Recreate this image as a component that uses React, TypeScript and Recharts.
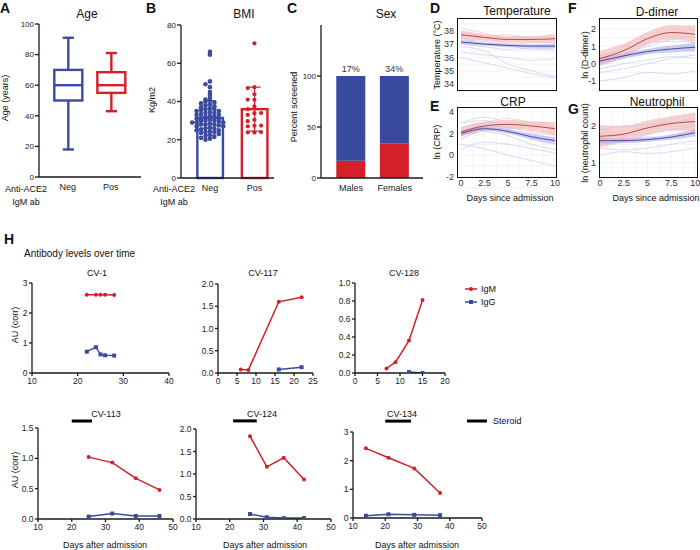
import React from "react";
import {
  Area,
  Bar,
  CartesianGrid,
  Cell,
  ComposedChart,
  LabelList,
  Line,
  LineChart,
  ReferenceLine,
  Scatter,
  XAxis,
  YAxis,
} from "recharts";

const FONT = '"Liberation Sans", Arial, Helvetica, sans-serif';
const RED = "#D3202A";
const BLUE = "#3A4B9F";
const INK = "#1a1a1a";

// ---- A: age by anti-ACE2 IgM status (whiskers = min/max)
const groups = ["Neg", "Pos"];
const ageMin = [18, 43];
const ageQ1 = [50, 55];
const ageMedian = [60, 60];
const ageQ3 = [70, 68.5];
const ageMax = [91, 81];

// ---- B: BMI, mean ± SD with individual patients
const bmiMean = [31.4, 36];
const bmiSd = [9, 11.5];
const bmiNeg = [
  66, 64.5, 50.5, 49, 47.5, 45, 43.5, 42, 41, 40.5, 40, 39.5, 39, 38.5, 38,
  37.5, 37, 36.5, 36, 36, 35.5, 35, 35, 34.5, 34, 34, 33.5, 33, 33, 32.5, 32,
  32, 31.5, 31, 31, 30.5, 30, 30, 30, 29.5, 29, 29, 29, 28.5, 28, 28, 28, 27.5,
  27, 27, 26.5, 26, 26, 25.5, 25, 25, 24.5, 24, 24, 23.5, 23, 22.5, 22, 21.5,
  21, 20.5, 20,
];
const bmiPos = [
  70.4, 47.5, 47, 43.8, 40.9, 41, 37.4, 36, 33.9, 33, 34, 30.4, 29.7, 27.3, 27,
  27.4, 23.8, 23.9, 24,
];

// ---- C: percent of screened patients that were positive
const sexes = ["Males", "Females"];
const pctPositive = [17, 34];

// ---- D–G: smoothed trajectories (pos = IgM+, neg = IgM−)
const days = [0, 2.5, 5, 7.5, 10];

const tempPosMean = [37.7, 37.5, 37.35, 37.35, 37.4];
const tempPosHalf = [0.3, 0.25, 0.25, 0.25, 0.3];
const tempNegMean = [37.15, 37.0, 36.9, 36.85, 36.85];
const tempNegHalf = [0.15, 0.12, 0.12, 0.12, 0.15];
const tempPosTraces = [
  [38.2, 37.8, 37.4, 37.2, 37.1],
  [37.9, 37.6, 37.7, 37.5, 37.8],
  [37.3, 37.4, 37.0, 37.1, 37.3],
];
const tempNegTraces = [
  [37.0, 36.8, 36.6, 36.7, 36.5],
  [36.4, 36.2, 36.0, 35.8, 35.9],
  [37.5, 37.0, 36.8, 36.9, 37.0],
  [36.8, 36.5, 35.5, 35.0, 34.6],
  [36.0, 35.6, 35.2, 34.8, 34.5],
  [37.3, 37.2, 36.9, 36.6, 36.7],
];

const crpPosMean = [2.15, 2.7, 2.85, 2.7, 2.45];
const crpPosHalf = [0.45, 0.4, 0.4, 0.45, 0.6];
const crpNegMean = [2.0, 2.45, 2.2, 1.7, 1.35];
const crpNegHalf = [0.25, 0.2, 0.2, 0.25, 0.3];
const crpPosTraces = [
  [2.2, 3.0, 3.4, 3.0, 2.6],
  [1.5, 2.4, 2.8, 2.9, 2.5],
  [3.0, 3.5, 3.0, 2.2, 1.8],
];
const crpNegTraces = [
  [1.5, 2.2, 1.8, 1.0, 0.5],
  [2.5, 3.0, 2.4, 1.8, 1.2],
  [0.5, 1.2, 1.0, 0.6, 0.2],
  [2.0, 2.8, 2.6, 2.0, 1.5],
  [1.0, 0.6, 0.0, -0.5, -1.0],
  [3.0, 3.2, 2.5, 1.5, 1.0],
];

const ddPosMean = [0.3, 0.75, 1.45, 1.8, 1.7];
const ddPosHalf = [0.45, 0.4, 0.35, 0.4, 0.5];
const ddNegMean = [0.15, 0.45, 0.7, 0.85, 0.95];
const ddNegHalf = [0.2, 0.15, 0.15, 0.2, 0.25];
const ddPosTraces = [
  [0.3, 1.0, 1.8, 2.2, 2.0],
  [0.5, 0.8, 1.3, 1.6, 1.5],
  [0.0, 0.6, 1.4, 1.8, 1.9],
];
const ddNegTraces = [
  [0.0, 0.3, 0.6, 0.8, 0.9],
  [-0.5, -0.3, 0.0, 0.3, 0.5],
  [0.5, 0.8, 1.2, 1.3, 1.2],
  [-1.0, -0.8, -0.5, -0.6, -0.4],
  [0.2, 0.6, 1.0, 1.4, 1.6],
  [-0.3, 0.0, 0.2, 0.4, 0.3],
];

const neuPosMean = [1.72, 1.78, 1.95, 2.07, 2.12];
const neuPosHalf = [0.3, 0.22, 0.2, 0.2, 0.25];
const neuNegMean = [1.6, 1.6, 1.63, 1.7, 1.82];
const neuNegHalf = [0.08, 0.06, 0.06, 0.07, 0.1];
const neuPosTraces = [
  [1.8, 1.85, 2.0, 2.2, 2.3],
  [1.6, 1.7, 1.9, 2.0, 2.0],
  [1.9, 1.8, 1.95, 2.1, 2.2],
];
const neuNegTraces = [
  [1.6, 1.55, 1.6, 1.7, 1.8],
  [1.4, 1.35, 1.4, 1.5, 1.6],
  [1.8, 1.75, 1.8, 1.9, 2.0],
  [1.2, 1.3, 1.25, 1.3, 1.4],
  [1.9, 2.0, 2.05, 2.1, 2.2],
  [1.5, 1.6, 1.7, 1.65, 1.75],
];

// ---- H: antibody levels per patient (AU, corrected)
const cv1IgmDays = [22, 24, 25, 26, 28];
const cv1Igm = [2.61, 2.61, 2.61, 2.61, 2.6];
const cv1IggDays = [22, 24, 25, 26, 28];
const cv1Igg = [0.71, 0.86, 0.62, 0.59, 0.58];

const cv117IgmDays = [6, 8, 16, 22];
const cv117Igm = [0.08, 0.07, 1.6, 1.7];
const cv117IggDays = [16, 22];
const cv117Igg = [0.08, 0.13];

const cv128IgmDays = [7, 9, 12, 15];
const cv128Igm = [0.05, 0.12, 0.36, 0.81];
const cv128IggDays = [12, 15];
const cv128Igg = [0.01, 0.0];

const cv113Days = [25, 32, 39, 46];
const cv113Igm = [1.02, 0.93, 0.67, 0.48];
const cv113Igg = [0.04, 0.09, 0.05, 0.05];
const cv113Steroid = [20, 26];

const cv124Days = [26, 31, 36, 42];
const cv124Igm = [1.84, 1.16, 1.36, 0.88];
const cv124Igg = [0.11, 0.04, 0.02, 0.02];
const cv124Steroid = [21, 28];

const cv134Days = [14, 21, 29, 37];
const cv134Igm = [2.43, 2.1, 1.73, 0.87];
const cv134Igg = [0.08, 0.13, 0.11, 0.1];
const cv134Steroid = [20, 28];

// ---------------------------------------------------------------------------

type Rect = { x0: number; y0: number; x1: number; y1: number };
const PAD = { l: 34, t: 14, r: 8, b: 24 };

// Places a chart so that its plot area lands exactly on rect.
function frame(r: Rect) {
  return {
    style: { position: "absolute" as const, left: r.x0 - PAD.l, top: r.y0 - PAD.t },
    width: r.x1 - r.x0 + PAD.l + PAD.r,
    height: r.y1 - r.y0 + PAD.t + PAD.b,
    margin: { top: PAD.t, right: PAD.r, left: 0, bottom: 0 },
  };
}

const GROUP_COLORS = [BLUE, RED];
const BAR_W = 28;
const axisLine = { stroke: INK, strokeWidth: 1.3 };
const tickSmall = { fontSize: 8, fill: "#222" };
const tickCat = { fontSize: 9, fill: "#222" };

const ageRows = groups.map((g, i) => ({
  pos: i + 1,
  range: [ageMin[i], ageMax[i]],
  lo: ageMin[i],
  q1: ageQ1[i],
  med: ageMedian[i],
  q3: ageQ3[i],
  hi: ageMax[i],
}));

function BoxShape(props: any) {
  const { x, y, width, height, fill, payload } = props;
  const { lo, q1, med, q3, hi } = payload;
  const py = (v: number) => y + ((hi - v) / (hi - lo)) * height;
  const cx = x + width / 2;
  const cap = width * 0.2;
  return (
    <g stroke={fill} strokeWidth={2.4} fill="none">
      <line x1={cx} x2={cx} y1={py(hi)} y2={py(q3)} />
      <line x1={cx} x2={cx} y1={py(q1)} y2={py(lo)} />
      <line x1={cx - cap} x2={cx + cap} y1={py(hi)} y2={py(hi)} />
      <line x1={cx - cap} x2={cx + cap} y1={py(lo)} y2={py(lo)} />
      <rect x={x} y={py(q3)} width={width} height={py(q1) - py(q3)} fill="#fff" />
      <line x1={x} x2={x + width} y1={py(med)} y2={py(med)} />
    </g>
  );
}

function AgePanel() {
  const f = frame({ x0: 39, y0: 24, x1: 141, y1: 177 });
  return (
    <div style={f.style}>
      <ComposedChart width={f.width} height={f.height} margin={f.margin} data={ageRows}>
        <XAxis
          type="number"
          dataKey="pos"
          domain={[0.33, 2.7]}
          ticks={[1, 2]}
          tickFormatter={(v: number) => groups[v - 1]}
          allowDataOverflow
          height={PAD.b}
          axisLine={axisLine}
          tickLine={false}
          tickSize={0}
          tickMargin={7}
          tick={tickCat}
        />
        <YAxis
          type="number"
          domain={[0, 100]}
          ticks={[0, 20, 40, 60, 80, 100]}
          interval={0}
          width={PAD.l}
          axisLine={axisLine}
          tickLine={axisLine}
          tickSize={4}
          tickMargin={1}
          tick={tickSmall}
        />
        <Bar dataKey="range" barSize={BAR_W} shape={(p: any) => <BoxShape {...p} />} isAnimationActive={false}>
          {ageRows.map((r, i) => (
            <Cell key={r.pos} fill={GROUP_COLORS[i]} />
          ))}
        </Bar>
      </ComposedChart>
    </div>
  );
}

// simple beeswarm: points sharing a value bin fan out sideways
function swarm(values: number[], center: number, bin: number, step: number) {
  const counts = new Map<number, number>();
  return values.map((v) => {
    const b = Math.round(v / bin);
    const n = counts.get(b) ?? 0;
    counts.set(b, n + 1);
    const off = Math.ceil(n / 2) * (n % 2 === 0 ? 1 : -1);
    return { pos: center + off * step, bmi: v };
  });
}

const bmiRows = groups.map((g, i) => ({ pos: i + 1, mean: bmiMean[i], sd: bmiSd[i] }));
const negPoints = swarm(bmiNeg, 1, 2, 0.1);
const posPoints = swarm(bmiPos, 2, 3, 0.15);

// hollow mean bar with SD whiskers; the scatter points narrow the band, so the
// outline keeps a fixed width around the bar's centre
function MeanBar(props: any) {
  const { x, y, width, height, fill, payload } = props;
  const perUnit = height / payload.mean;
  const top = y - payload.sd * perUnit;
  const bottom = y + payload.sd * perUnit;
  const cx = x + width / 2;
  return (
    <g stroke={fill} fill="none">
      <rect x={cx - BAR_W / 2 + 1.2} y={y} width={BAR_W - 2.4} height={height} strokeWidth={2.4} />
      <line x1={cx} x2={cx} y1={top} y2={bottom} strokeWidth={1.2} />
      <line x1={cx - 6} x2={cx + 6} y1={top} y2={top} strokeWidth={1.2} />
      <line x1={cx - 6} x2={cx + 6} y1={bottom} y2={bottom} strokeWidth={1.2} />
    </g>
  );
}

const dotShape = (color: string, r: number) => (p: any) =>
  <circle cx={p.cx} cy={p.cy} r={r} fill={color} stroke="none" />;

function BmiPanel() {
  const f = frame({ x0: 181, y0: 25, x1: 274, y1: 178 });
  return (
    <div style={f.style}>
      <ComposedChart width={f.width} height={f.height} margin={f.margin} data={bmiRows}>
        <XAxis
          type="number"
          dataKey="pos"
          domain={[0.35, 2.44]}
          ticks={[1, 2]}
          tickFormatter={(v: number) => groups[v - 1]}
          allowDataOverflow
          height={PAD.b}
          axisLine={axisLine}
          tickLine={false}
          tickSize={0}
          tickMargin={7}
          tick={tickCat}
        />
        <YAxis
          type="number"
          domain={[0, 80]}
          ticks={[0, 20, 40, 60, 80]}
          interval={0}
          width={PAD.l}
          axisLine={axisLine}
          tickLine={axisLine}
          tickSize={4}
          tickMargin={1}
          tick={tickSmall}
        />
        <Bar dataKey="mean" shape={(p: any) => <MeanBar {...p} />} isAnimationActive={false}>
          {bmiRows.map((r, i) => (
            <Cell key={r.pos} fill={GROUP_COLORS[i]} />
          ))}
        </Bar>
        <Scatter data={negPoints} dataKey="bmi" shape={dotShape(BLUE, 2.3)} isAnimationActive={false} />
        <Scatter data={posPoints} dataKey="bmi" shape={dotShape(RED, 2.1)} isAnimationActive={false} />
      </ComposedChart>
    </div>
  );
}

const sexRows = sexes.map((s, i) => ({
  pos: i + 1,
  positive: pctPositive[i],
  negative: 100 - pctPositive[i],
}));

function SexPanel() {
  const f = frame({ x0: 321, y0: 25, x1: 423, y1: 178 });
  return (
    <div style={f.style}>
      <ComposedChart width={f.width} height={f.height} margin={f.margin} data={sexRows}>
        <XAxis
          type="number"
          dataKey="pos"
          domain={[0.31, 2.65]}
          ticks={[1, 2]}
          tickFormatter={(v: number) => sexes[v - 1]}
          allowDataOverflow
          height={PAD.b}
          axisLine={axisLine}
          tickLine={false}
          tickSize={0}
          tickMargin={7}
          tick={tickCat}
        />
        <YAxis
          type="number"
          domain={[0, 150]}
          ticks={[0, 50, 100]}
          interval={0}
          width={PAD.l}
          axisLine={axisLine}
          tickLine={axisLine}
          tickSize={4}
          tickMargin={1}
          tick={tickSmall}
        />
        <Bar dataKey="positive" stackId="s" barSize={29} fill={RED} isAnimationActive={false} />
        <Bar dataKey="negative" stackId="s" barSize={29} fill={BLUE} isAnimationActive={false}>
          <LabelList
            dataKey="positive"
            position="top"
            offset={4}
            formatter={(v: any) => `${v}%`}
            style={{ fontSize: 9, fill: "#333" }}
          />
        </Bar>
      </ComposedChart>
    </div>
  );
}

function trendRows(
  posMean: number[],
  posHalf: number[],
  negMean: number[],
  negHalf: number[],
  posTraces: number[][],
  negTraces: number[][]
) {
  return days.map((day, i) => {
    const row: Record<string, any> = {
      day,
      posMean: posMean[i],
      posBand: [posMean[i] - posHalf[i], posMean[i] + posHalf[i]],
      negMean: negMean[i],
      negBand: [negMean[i] - negHalf[i], negMean[i] + negHalf[i]],
    };
    posTraces.forEach((t, k) => (row[`p${k}`] = t[i]));
    negTraces.forEach((t, k) => (row[`n${k}`] = t[i]));
    return row;
  });
}

const tempRows = trendRows(tempPosMean, tempPosHalf, tempNegMean, tempNegHalf, tempPosTraces, tempNegTraces);
const crpRows = trendRows(crpPosMean, crpPosHalf, crpNegMean, crpNegHalf, crpPosTraces, crpNegTraces);
const ddRows = trendRows(ddPosMean, ddPosHalf, ddNegMean, ddNegHalf, ddPosTraces, ddNegTraces);
const neuRows = trendRows(neuPosMean, neuPosHalf, neuNegMean, neuNegHalf, neuPosTraces, neuNegTraces);

const dayGrid = [0, 1.25, 2.5, 3.75, 5, 6.25, 7.5, 8.75, 10];

interface TrendProps {
  rect: Rect;
  rows: Record<string, any>[];
  xDomain: [number, number];
  yDomain: [number, number];
  yTicks: number[];
  showX: boolean;
  nPos: number;
  nNeg: number;
}

function TrendPanel({ rect, rows, xDomain, yDomain, yTicks, showX, nPos, nNeg }: TrendProps) {
  const f = frame(rect);
  const step = yTicks.length > 1 ? yTicks[1] - yTicks[0] : 1;
  const yGrid = yTicks.flatMap((t) => [t - step / 2, t]).concat(yTicks[yTicks.length - 1] + step / 2);
  const tick = { fontSize: 9, fill: "#333" };
  return (
    <>
      <div style={f.style}>
        <ComposedChart width={f.width} height={f.height} margin={f.margin} data={rows}>
          <CartesianGrid stroke="#ECECEC" strokeWidth={0.6} verticalValues={dayGrid} horizontalValues={yGrid} />
          <XAxis
            type="number"
            dataKey="day"
            domain={xDomain}
            ticks={days}
            interval={0}
            allowDataOverflow
            height={PAD.b}
            axisLine={false}
            tickLine={false}
            tickSize={0}
            tickMargin={2}
            tick={showX ? tick : false}
          />
          <YAxis
            type="number"
            domain={yDomain}
            ticks={yTicks}
            interval={0}
            allowDataOverflow
            width={PAD.l}
            axisLine={false}
            tickLine={false}
            tickSize={0}
            tickMargin={3}
            tick={tick}
          />
          {Array.from({ length: nNeg }, (_, k) => (
            <Line key={`n${k}`} dataKey={`n${k}`} type="monotone" stroke="#C9C9F0" strokeWidth={0.7} dot={false} isAnimationActive={false} />
          ))}
          {Array.from({ length: nPos }, (_, k) => (
            <Line key={`p${k}`} dataKey={`p${k}`} type="monotone" stroke="#F3C4C4" strokeWidth={0.7} dot={false} isAnimationActive={false} />
          ))}
          <Area dataKey="negBand" type="monotone" stroke="none" fill="#6F6FD2" fillOpacity={0.35} isAnimationActive={false} />
          <Area dataKey="posBand" type="monotone" stroke="none" fill="#EE8A8A" fillOpacity={0.4} isAnimationActive={false} />
          <Line dataKey="negMean" type="monotone" stroke="#4A4AB2" strokeWidth={1} dot={false} isAnimationActive={false} />
          <Line dataKey="posMean" type="monotone" stroke="#B03A3A" strokeWidth={0.9} dot={false} isAnimationActive={false} />
        </ComposedChart>
      </div>
      <div
        style={{
          position: "absolute",
          left: rect.x0,
          top: rect.y0,
          width: rect.x1 - rect.x0,
          height: rect.y1 - rect.y0,
          border: "1.5px solid #111",
          boxSizing: "border-box",
        }}
      />
    </>
  );
}

const series = (xs: number[], ys: number[]) => xs.map((day, i) => ({ day, au: ys[i] }));

const roundDot = (p: any) => <circle key={`c${p.index}`} cx={p.cx} cy={p.cy} r={2} fill={RED} stroke="none" />;
const squareDot = (p: any) => (
  <rect key={`s${p.index}`} x={p.cx - 2} y={p.cy - 2} width={4} height={4} fill={BLUE} stroke="none" />
);

interface CurveProps {
  rect: Rect;
  xDomain: [number, number];
  xTicks: number[];
  yDomain: [number, number];
  yTicks: number[];
  digits: number;
  igm: { day: number; au: number }[];
  igg: { day: number; au: number }[];
  steroid?: number[];
  barLevel?: number;
}

function CurvePanel({ rect, xDomain, xTicks, yDomain, yTicks, digits, igm, igg, steroid, barLevel }: CurveProps) {
  const f = frame(rect);
  return (
    <div style={f.style}>
      <LineChart width={f.width} height={f.height} margin={f.margin}>
        <XAxis
          type="number"
          dataKey="day"
          domain={xDomain}
          ticks={xTicks}
          interval={0}
          allowDataOverflow
          height={PAD.b}
          axisLine={axisLine}
          tickLine={axisLine}
          tickSize={3}
          tickMargin={2}
          tick={{ fontSize: 8.5, fill: "#222" }}
        />
        <YAxis
          type="number"
          domain={yDomain}
          ticks={yTicks}
          interval={0}
          allowDataOverflow
          width={PAD.l}
          axisLine={axisLine}
          tickLine={axisLine}
          tickSize={3}
          tickMargin={1.5}
          tickFormatter={(v: number) => v.toFixed(digits)}
          tick={{ fontSize: 8.5, fill: "#222" }}
        />
        {steroid && barLevel !== undefined && (
          <ReferenceLine
            segment={[
              { x: steroid[0], y: barLevel },
              { x: steroid[1], y: barLevel },
            ]}
            stroke="#000"
            strokeWidth={3}
            ifOverflow="visible"
          />
        )}
        <Line data={igg} dataKey="au" stroke={BLUE} strokeWidth={1.5} dot={squareDot} isAnimationActive={false} />
        <Line data={igm} dataKey="au" stroke={RED} strokeWidth={1.5} dot={roundDot} isAnimationActive={false} />
      </LineChart>
    </div>
  );
}

type Txt = { x: number; y: number; t: string; s: number; a?: "start" | "middle" | "end"; b?: boolean; r?: boolean };

const TEXTS: Txt[] = [
  { x: 0, y: 13, t: "A", s: 14, a: "start", b: true },
  { x: 87, y: 18, t: "Age", s: 12 },
  { x: 8, y: 98, t: "Age (years)", s: 9, r: true },
  { x: 26, y: 192, t: "Anti-ACE2", s: 9 },
  { x: 26, y: 205, t: "IgM ab", s: 9 },
  { x: 146, y: 13, t: "B", s: 14, a: "start", b: true },
  { x: 244, y: 18, t: "BMI", s: 12 },
  { x: 155, y: 100, t: "Kg/m2", s: 9, r: true },
  { x: 174, y: 192, t: "Anti-ACE2", s: 9 },
  { x: 174, y: 205, t: "IgM ab", s: 9 },
  { x: 287, y: 13, t: "C", s: 14, a: "start", b: true },
  { x: 386, y: 18, t: "Sex", s: 12 },
  { x: 297, y: 107, t: "Percent screened", s: 9, r: true },
  { x: 430, y: 13, t: "D", s: 14, a: "start", b: true },
  { x: 517, y: 15, t: "Temperature", s: 12 },
  { x: 440, y: 55, t: "Temperature (°C)", s: 9, r: true },
  { x: 430, y: 111, t: "E", s: 14, a: "start", b: true },
  { x: 513, y: 106, t: "CRP", s: 12 },
  { x: 440, y: 142, t: "ln (CRP)", s: 9, r: true },
  { x: 510, y: 201, t: "Days since admission", s: 9 },
  { x: 568, y: 13, t: "F", s: 14, a: "start", b: true },
  { x: 657, y: 16, t: "D-dimer", s: 12 },
  { x: 588, y: 55, t: "ln (D-dimer)", s: 9, r: true },
  { x: 568, y: 114, t: "G", s: 14, a: "start", b: true },
  { x: 657, y: 106, t: "Neutrophil", s: 12 },
  { x: 588, y: 143, t: "ln (neutrophil count)", s: 9, r: true },
  { x: 656, y: 201, t: "Days since admission", s: 9 },
  { x: 4, y: 244, t: "H", s: 14, a: "start", b: true },
  { x: 24, y: 257, t: "Antibody levels over time", s: 10, a: "start" },
  { x: 97, y: 276, t: "CV-1", s: 9 },
  { x: 263, y: 276, t: "CV-117", s: 9 },
  { x: 404, y: 276, t: "CV-128", s: 9 },
  { x: 18, y: 325, t: "AU (corr)", s: 9, r: true },
  { x: 481, y: 292, t: "IgM", s: 9, a: "start" },
  { x: 481, y: 305, t: "IgG", s: 9, a: "start" },
  { x: 106, y: 417, t: "CV-113", s: 9 },
  { x: 262, y: 417, t: "CV-124", s: 9 },
  { x: 402, y: 417, t: "CV-134", s: 9 },
  { x: 493, y: 424, t: "Steroid", s: 9, a: "start" },
  { x: 18, y: 470, t: "AU (corr)", s: 9, r: true },
  { x: 105, y: 548, t: "Days after admission", s: 9 },
  { x: 265, y: 548, t: "Days after admission", s: 9 },
  { x: 417, y: 548, t: "Days after admission", s: 9 },
];

function Annotations() {
  return (
    <svg width={700} height={550} style={{ position: "absolute", left: 0, top: 0, pointerEvents: "none" }}>
      {TEXTS.map((d, i) => (
        <text
          key={i}
          x={d.x}
          y={d.y}
          fontSize={d.s}
          fontWeight={d.b ? 700 : 400}
          textAnchor={d.a ?? "middle"}
          fill="#111"
          transform={d.r ? `rotate(-90 ${d.x} ${d.y})` : undefined}
        >
          {d.t}
        </text>
      ))}
      {/* legend for panel H */}
      <line x1={465} x2={477} y1={289} y2={289} stroke={RED} strokeWidth={1.5} />
      <circle cx={471} cy={289} r={2} fill={RED} />
      <line x1={465} x2={477} y1={302} y2={302} stroke={BLUE} strokeWidth={1.5} />
      <rect x={469} y={300} width={4} height={4} fill={BLUE} />
      <line x1={467} x2={487} y1={421} y2={421} stroke="#000" strokeWidth={3} />
    </svg>
  );
}

export default function App() {
  return (
    <div
      style={{
        position: "absolute",
        left: 0,
        top: 0,
        width: 700,
        height: 550,
        background: "#fff",
        overflow: "hidden",
        fontFamily: FONT,
      }}
    >
      <AgePanel />
      <BmiPanel />
      <SexPanel />
      <TrendPanel rect={{ x0: 457, y0: 18, x1: 557, y1: 91 }} rows={tempRows} xDomain={[-0.43, 10.2]} yDomain={[33.5, 38.95]} yTicks={[34, 35, 36, 37, 38]} showX={false} nPos={tempPosTraces.length} nNeg={tempNegTraces.length} />
      <TrendPanel rect={{ x0: 457, y0: 107, x1: 557, y1: 178 }} rows={crpRows} xDomain={[-0.43, 10.2]} yDomain={[-2.12, 4.46]} yTicks={[-2, 0, 2, 4]} showX nPos={crpPosTraces.length} nNeg={crpNegTraces.length} />
      <TrendPanel rect={{ x0: 599, y0: 18, x1: 698, y1: 91 }} rows={ddRows} xDomain={[-0.1, 10.3]} yDomain={[-1.58, 2.64]} yTicks={[-1, 0, 1, 2]} showX={false} nPos={ddPosTraces.length} nNeg={ddNegTraces.length} />
      <TrendPanel rect={{ x0: 599, y0: 107, x1: 698, y1: 178 }} rows={neuRows} xDomain={[-0.1, 10.3]} yDomain={[0.58, 2.52]} yTicks={[1, 2]} showX nPos={neuPosTraces.length} nNeg={neuNegTraces.length} />

      <CurvePanel rect={{ x0: 32, y0: 283, x1: 169, y1: 373 }} xDomain={[10, 40]} xTicks={[10, 20, 30, 40]} yDomain={[0, 3]} yTicks={[0, 1, 2, 3]} digits={0} igm={series(cv1IgmDays, cv1Igm)} igg={series(cv1IggDays, cv1Igg)} />
      <CurvePanel rect={{ x0: 218, y0: 284, x1: 313, y1: 373 }} xDomain={[0, 25]} xTicks={[0, 5, 10, 15, 20, 25]} yDomain={[0, 2]} yTicks={[0, 0.5, 1, 1.5, 2]} digits={1} igm={series(cv117IgmDays, cv117Igm)} igg={series(cv117IggDays, cv117Igg)} />
      <CurvePanel rect={{ x0: 355, y0: 283, x1: 445, y1: 373 }} xDomain={[0, 20]} xTicks={[0, 5, 10, 15, 20]} yDomain={[0, 1]} yTicks={[0, 0.2, 0.4, 0.6, 0.8, 1]} digits={1} igm={series(cv128IgmDays, cv128Igm)} igg={series(cv128IggDays, cv128Igg)} />

      <CurvePanel rect={{ x0: 38, y0: 428, x1: 173, y1: 519 }} xDomain={[10, 50]} xTicks={[10, 20, 30, 40, 50]} yDomain={[0, 1.5]} yTicks={[0, 0.5, 1, 1.5]} digits={1} igm={series(cv113Days, cv113Igm)} igg={series(cv113Days, cv113Igg)} steroid={cv113Steroid} barLevel={1.615} />
      <CurvePanel rect={{ x0: 196, y0: 429, x1: 331, y1: 519 }} xDomain={[10, 50]} xTicks={[10, 20, 30, 40, 50]} yDomain={[0, 2]} yTicks={[0, 0.5, 1, 1.5, 2]} digits={1} igm={series(cv124Days, cv124Igm)} igg={series(cv124Days, cv124Igg)} steroid={cv124Steroid} barLevel={2.18} />
      <CurvePanel rect={{ x0: 353, y0: 432, x1: 482, y1: 518 }} xDomain={[10, 50]} xTicks={[10, 20, 30, 40, 50]} yDomain={[0, 3]} yTicks={[0, 1, 2, 3]} digits={0} igm={series(cv134Days, cv134Igm)} igg={series(cv134Days, cv134Igg)} steroid={cv134Steroid} barLevel={3.38} />

      <Annotations />
    </div>
  );
}
